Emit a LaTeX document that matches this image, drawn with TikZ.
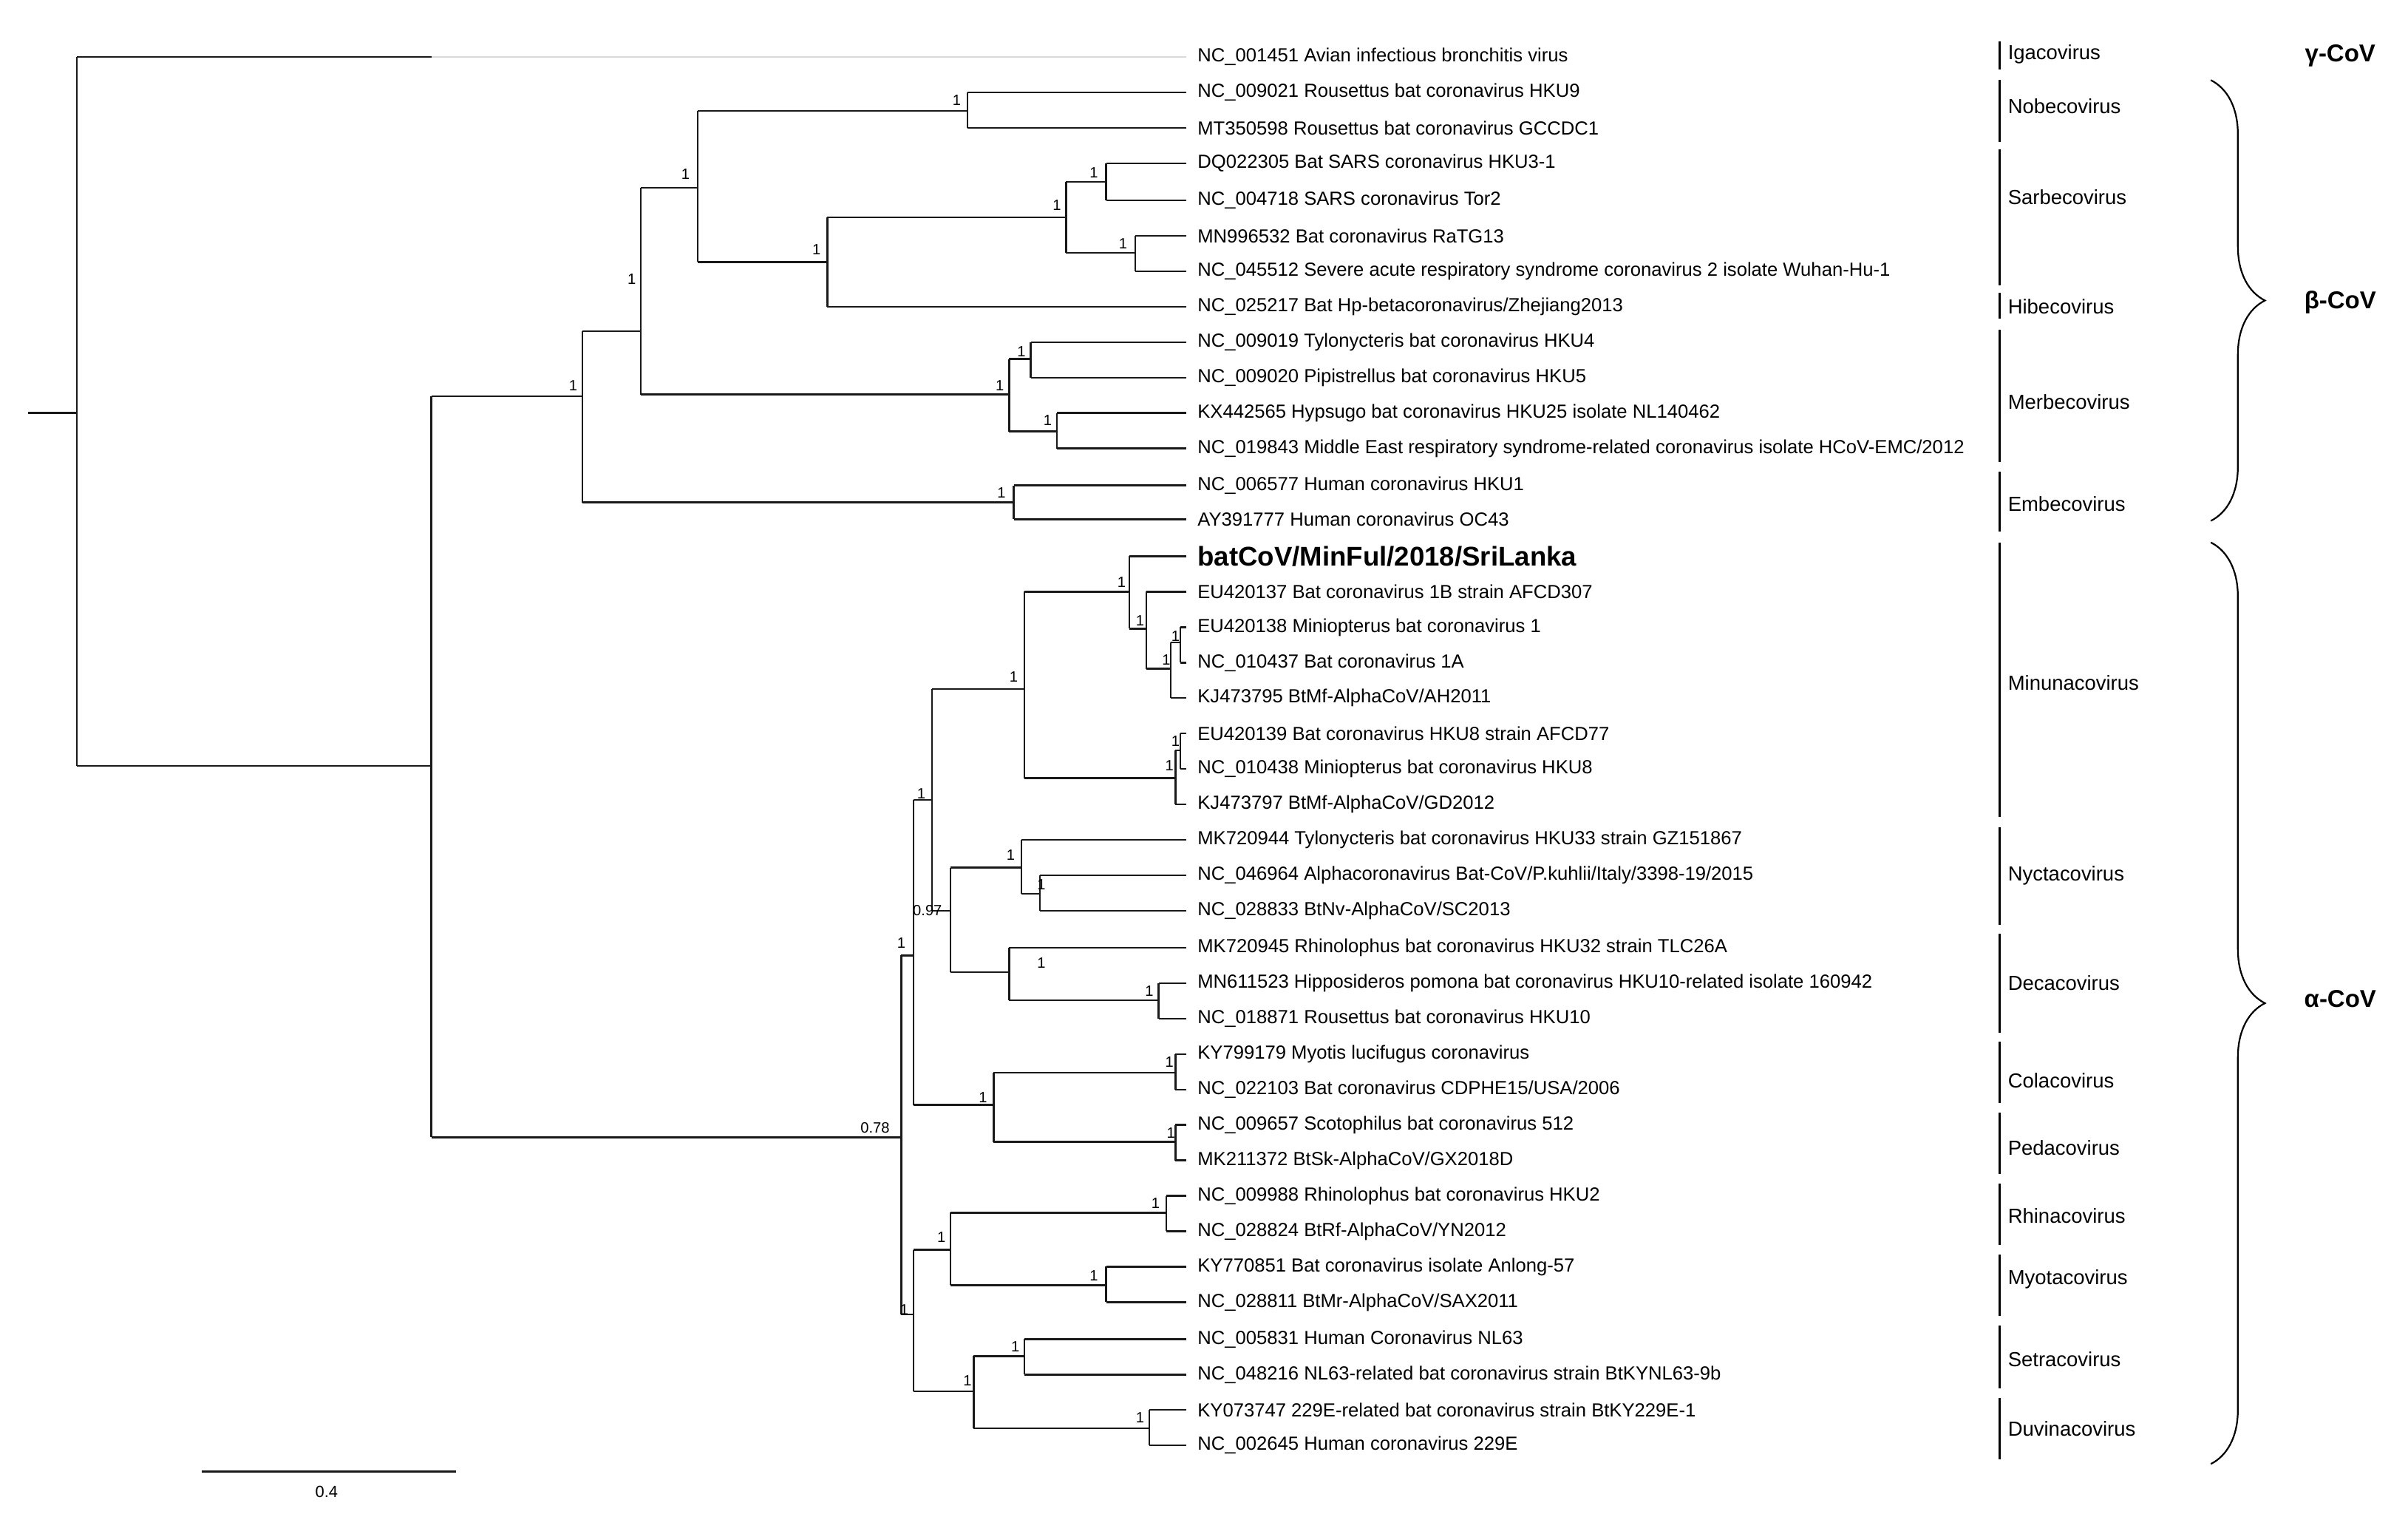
\documentclass[tikz,border=0pt]{standalone}
\usepackage{fontspec}
\setmainfont{Liberation Sans}
\usetikzlibrary{decorations.pathreplacing}
\begin{document}
\begin{tikzpicture}[x=0.02cm,y=-0.02cm,
  br/.style={line width=0.65pt,black!90},
  lf/.style={font=\fontsize{7}{8}\selectfont,anchor=west,inner sep=0pt},
  bs/.style={font=\fontsize{5.5}{6}\selectfont,inner sep=0pt},
  cl/.style={font=\fontsize{7.5}{8}\selectfont,anchor=west,inner sep=0pt},
  bar/.style={line width=0.9pt},
  gl/.style={font=\fontsize{9}{10}\selectfont\bfseries,inner sep=0pt}]
\useasboundingbox (0,0) rectangle (1563,984);
% leaves
\def\tx{770}
\foreach \y/\t [count=\i] in {
37/{NC\_001451 Avian infectious bronchitis virus},
60/{NC\_009021 Rousettus bat coronavirus HKU9},
83/{MT350598 Rousettus bat coronavirus GCCDC1},
106/{DQ022305 Bat SARS coronavirus HKU3-1},
130/{NC\_004718 SARS coronavirus Tor2},
153/{MN996532 Bat coronavirus RaTG13},
176/{NC\_045512 Severe acute respiratory syndrome coronavirus 2 isolate Wuhan-Hu-1},
199/{NC\_025217 Bat Hp-betacoronavirus/Zhejiang2013},
222/{NC\_009019 Tylonycteris bat coronavirus HKU4},
245/{NC\_009020 Pipistrellus bat coronavirus HKU5},
268/{KX442565 Hypsugo bat coronavirus HKU25 isolate NL140462},
291/{NC\_019843 Middle East respiratory syndrome-related coronavirus isolate HCoV-EMC/2012},
315/{NC\_006577 Human coronavirus HKU1},
337/{AY391777 Human coronavirus OC43},
384/{EU420137 Bat coronavirus 1B strain AFCD307},
407/{EU420138 Miniopterus bat coronavirus 1},
430/{NC\_010437 Bat coronavirus 1A},
453/{KJ473795 BtMf-AlphaCoV/AH2011},
476/{EU420139 Bat coronavirus HKU8 strain AFCD77},
499/{NC\_010438 Miniopterus bat coronavirus HKU8},
522/{KJ473797 BtMf-AlphaCoV/GD2012},
545/{MK720944 Tylonycteris bat coronavirus HKU33 strain GZ151867},
568/{NC\_046964 Alphacoronavirus Bat-CoV/P.kuhlii/Italy/3398-19/2015},
591/{NC\_028833 BtNv-AlphaCoV/SC2013},
615/{MK720945 Rhinolophus bat coronavirus HKU32 strain TLC26A},
638/{MN611523 Hipposideros pomona bat coronavirus HKU10-related isolate 160942},
661/{NC\_018871 Rousettus bat coronavirus HKU10},
684/{KY799179 Myotis lucifugus coronavirus},
707/{NC\_022103 Bat coronavirus CDPHE15/USA/2006},
730/{NC\_009657 Scotophilus bat coronavirus 512},
753/{MK211372 BtSk-AlphaCoV/GX2018D},
776/{NC\_009988 Rhinolophus bat coronavirus HKU2},
799/{NC\_028824 BtRf-AlphaCoV/YN2012},
822/{KY770851 Bat coronavirus isolate Anlong-57},
845/{NC\_028811 BtMr-AlphaCoV/SAX2011},
869/{NC\_005831 Human Coronavirus NL63},
892/{NC\_048216 NL63-related bat coronavirus strain BtKYNL63-9b},
915/{KY073747 229E-related bat coronavirus strain BtKY229E-1},
938/{NC\_002645 Human coronavirus 229E}}
{\node[lf] (L\i) at (777,\y) {\t};}
\node[lf,font=\fontsize{10}{11}\selectfont\bfseries] (Lbat) at (777,361) {batCoV/MinFul/2018/SriLanka};
% root
\coordinate (root) at (50,268);
\draw[br] (18,268) -- (root);
\draw[br] (50,37) -- (50,497);
\draw[br] (50,37) -- (280,37);
\draw[black!15,line width=0.6pt] (280,37) -- (\tx,37);
\draw[br] (50,497) -- (280,497);
% A
\draw[br] (280,257) -- (280,738);
\draw[br] (280,257) -- (378,257);
\draw[br] (280,738) -- (585,738);
\node[bs] (bA) at (568,732) {0.78};
% beta
\draw[br] (378,215) -- (378,326) (378,215) -- (416,215) (378,326) -- (658,326);
\node[bs] (bB0) at (372,250) {1};
\draw[br] (416,122) -- (416,256) (416,122) -- (453,122) (416,256) -- (655,256);
\node[bs] (bB1) at (410,181) {1};
\draw[br] (453,72) -- (453,170) (453,72) -- (628,72) (453,170) -- (537,170);
\node[bs] (bB2) at (445,113) {1};
\draw[br] (628,60) -- (628,83) (628,60) -- (\tx,60) (628,83) -- (\tx,83);
\node[bs] at (621,65) {1};
\draw[br] (537,141) -- (537,199) (537,141) -- (692,141) (537,199) -- (\tx,199);
\node[bs] at (530,162) {1};
\draw[br] (692,118) -- (692,164) (692,118) -- (718,118) (692,164) -- (737,164);
\node[bs] at (686,133) {1};
\draw[br] (718,106) -- (718,130) (718,106) -- (\tx,106) (718,130) -- (\tx,130);
\node[bs] at (710,112) {1};
\draw[br] (737,153) -- (737,176) (737,153) -- (\tx,153) (737,176) -- (\tx,176);
\node[bs] at (729,158) {1};
\draw[br] (655,233) -- (655,280) (655,233) -- (669,233) (655,280) -- (686,280);
\node[bs] at (649,250) {1};
\draw[br] (669,222) -- (669,245) (669,222) -- (\tx,222) (669,245) -- (\tx,245);
\node[bs] at (663,228) {1};
\draw[br] (686,268) -- (686,291) (686,268) -- (\tx,268) (686,291) -- (\tx,291);
\node[bs] at (680,273) {1};
\draw[br] (658,315) -- (658,337) (658,315) -- (\tx,315) (658,337) -- (\tx,337);
\node[bs] at (650,320) {1};
% alpha
\draw[br] (585,620) -- (585,853) (585,620) -- (593,620) (585,853) -- (593,853);
\node[bs] at (585,612) {1};
\node[bs] at (587,850) {1};
\draw[br] (593,519) -- (593,717) (593,519) -- (605,519) (593,717) -- (645,717);
\node[bs] at (598,515) {1};
\node[bs] at (638,712) {1};
\draw[br] (605,447) -- (605,591) (605,447) -- (665,447) (605,591) -- (617,591);
\node[bs] at (602,591) {0.97};
% minuna
\draw[br] (665,384) -- (665,505) (665,384) -- (733,384) (665,505) -- (763,505);
\node[bs] at (658,439) {1};
\draw[br] (733,361) -- (733,408) (733,361) -- (\tx,361) (733,408) -- (744,408);
\node[bs] at (728,378) {1};
\draw[br] (744,384) -- (744,434) (744,384) -- (\tx,384) (744,434) -- (760,434);
\node[bs] at (740,403) {1};
\draw[br] (760,417) -- (760,453) (760,417) -- (766,417) (760,453) -- (\tx,453);
\node[bs] at (757,428) {1};
\draw[br] (766,407) -- (766,430) (766,407) -- (\tx,407) (766,430) -- (\tx,430);
\node[bs] at (763,413) {1};
\draw[br] (763,487) -- (763,522) (763,487) -- (766,487) (763,522) -- (\tx,522);
\node[bs] at (759,497) {1};
\draw[br] (766,476) -- (766,499) (766,476) -- (\tx,476) (766,499) -- (\tx,499);
\node[bs] at (763,481) {1};
% nycta + deca
\draw[br] (617,563) -- (617,631) (617,563) -- (663,563) (617,631) -- (655,631);
\draw[br] (663,545) -- (663,580) (663,545) -- (\tx,545) (663,580) -- (675,580);
\node[bs] at (656,555) {1};
\draw[br] (675,568) -- (675,591) (675,568) -- (\tx,568) (675,591) -- (\tx,591);
\node[bs] at (676,574) {1};
\draw[br] (655,615) -- (655,649) (655,615) -- (\tx,615) (655,649) -- (752,649);
\node[bs] at (676,625) {1};
\draw[br] (752,638) -- (752,661) (752,638) -- (\tx,638) (752,661) -- (\tx,661);
\node[bs] at (746,643) {1};
% cola/peda
\draw[br] (645,696) -- (645,741) (645,696) -- (763,696) (645,741) -- (763,741);
\draw[br] (763,684) -- (763,707) (763,684) -- (\tx,684) (763,707) -- (\tx,707);
\node[bs] at (759,689) {1};
\draw[br] (763,730) -- (763,753) (763,730) -- (\tx,730) (763,753) -- (\tx,753);
\node[bs] at (760,735) {1};
% lower
\draw[br] (593,811) -- (593,903) (593,811) -- (617,811) (593,903) -- (632,903);
\draw[br] (617,787) -- (617,834) (617,787) -- (757,787) (617,834) -- (718,834);
\node[bs] at (611,803) {1};
\draw[br] (757,776) -- (757,799) (757,776) -- (\tx,776) (757,799) -- (\tx,799);
\node[bs] at (750,781) {1};
\draw[br] (718,822) -- (718,845) (718,822) -- (\tx,822) (718,845) -- (\tx,845);
\node[bs] at (710,828) {1};
\draw[br] (632,880) -- (632,927) (632,880) -- (665,880) (632,927) -- (746,927);
\node[bs] at (628,896) {1};
\draw[br] (665,869) -- (665,892) (665,869) -- (\tx,869) (665,892) -- (\tx,892);
\node[bs] at (659,874) {1};
\draw[br] (746,915) -- (746,938) (746,915) -- (\tx,915) (746,938) -- (\tx,938);
\node[bs] at (740,920) {1};
% clade bars
\foreach \a/\b/\ly/\t [count=\i] in {27/45/35/Igacovirus,52/92/69/Nobecovirus,97/185/128/Sarbecovirus,190/207/199/Hibecovirus,214/300/261/Merbecovirus,306/345/327/Embecovirus,352/530/443/Minunacovirus,537/600/568/Nyctacovirus,606/670/638/Decacovirus,676/716/701/Colacovirus,722/762/745/Pedacovirus,768/808/789/Rhinacovirus,814/854/830/Myotacovirus,860/901/882/Setracovirus,907/947/927/Duvinacovirus}
{\draw[bar] (1298,\a) -- (1298,\b);
 \node[cl] (C\i) at (1303,\ly) {\t};}
% braces
\draw[line width=0.6pt,decorate,decoration={brace,amplitude=20pt}] (1435,52) -- (1435,338);
\draw[line width=0.6pt,decorate,decoration={brace,amplitude=20pt}] (1435,352) -- (1435,950);
\node[gl] (g) at (1519,36) {γ-CoV};
\node[gl] (b) at (1519,196) {β-CoV};
\node[gl] (a) at (1519,648) {α-CoV};
% scale
\draw[br] (131,955) -- (296,955);
\node[bs,font=\fontsize{6}{7}\selectfont] (sc) at (212,968) {0.4};
\end{tikzpicture}
\end{document}
